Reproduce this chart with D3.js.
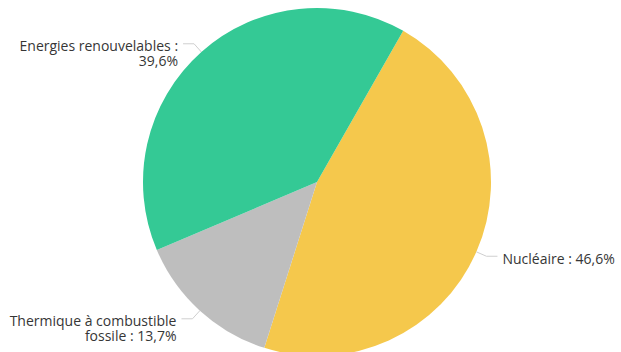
<!DOCTYPE html>
<html>
<head>
<meta charset="utf-8">
<script src="https://cdn.jsdelivr.net/npm/d3@7"></script>
<style>
  html, body { margin: 0; padding: 0; background: #fff; }
  svg { display: block; }
  text { font-family: "Open Sans", "Noto Sans", sans-serif; font-size: 14px; fill: #363636; }
</style>
</head>
<body>
<svg id="chart" width="621" height="352"></svg>
<script>
// slice data, clockwise from the top-right boundary
var categories = ['Nucléaire', 'Thermique à combustible fossile', 'Energies renouvelables'];
var shares = [46.6, 13.7, 39.6];
var labelLines = [
  ['Nucléaire : 46,6%'],
  ['Thermique à combustible', 'fossile : 13,7%'],
  ['Energies renouvelables :', '39,6%']
];
var colors = ['#f5c84c', '#bebebe', '#34c995'];

var width = 621, height = 352;
var cx = 317, cy = 182, radius = 174;
var startOffset = 29.7 * Math.PI / 180;

var svg = d3.select('#chart');
var g = svg.append('g').attr('transform', 'translate(' + cx + ',' + cy + ')');

var pie = d3.pie()
  .sort(null)
  .value(function(d) { return d; })
  .startAngle(startOffset)
  .endAngle(startOffset + 2 * Math.PI);

var arcs = pie(shares);

var arc = d3.arc().innerRadius(0).outerRadius(radius);

g.selectAll('path.slice')
  .data(arcs)
  .enter().append('path')
  .attr('class', 'slice')
  .attr('d', arc)
  .attr('fill', function(d, i) { return colors[i]; });

// leader lines: edge midpoint -> a little outward -> short horizontal
function pointAt(a, r) { return [Math.sin(a) * r, -Math.cos(a) * r]; }

arcs.forEach(function(d, i) {
  var mid = (d.startAngle + d.endAngle) / 2;
  var p0 = pointAt(mid, radius);
  var p1 = pointAt(mid, radius + 11);
  var right = Math.sin(mid) > 0;
  var p2 = [p1[0] + (right ? 11 : -11), p1[1]];

  g.append('path')
    .attr('d', d3.line()([p0, p1, p2]))
    .attr('fill', 'none')
    .attr('stroke', '#cfcfcf')
    .attr('stroke-width', 1);

  var lines = labelLines[i];
  var tx = p2[0] + (right ? 5 : -5);
  var ty = p2[1] + 7.5;
  var t = g.append('text')
    .attr('text-anchor', right ? 'start' : 'end')
    .attr('x', tx)
    .attr('y', ty);
  lines.forEach(function(s, j) {
    t.append('tspan').attr('x', tx).attr('dy', j === 0 ? 0 : 15).text(s);
  });
});
</script>
</body>
</html>
